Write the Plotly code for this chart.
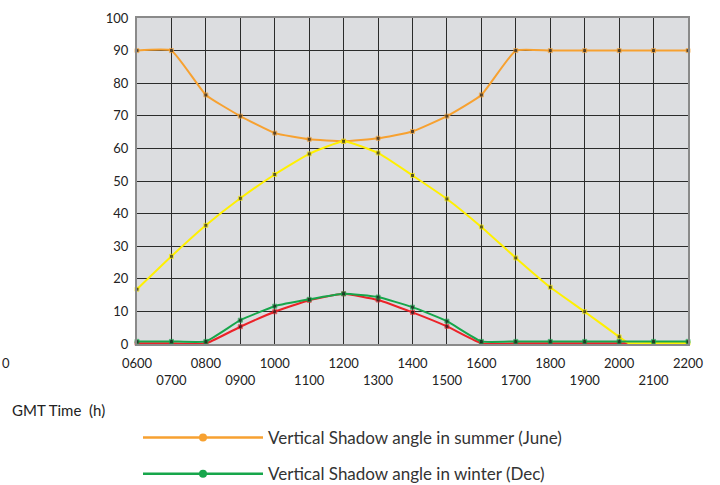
import plotly.graph_objects as go

hours = [6, 7, 8, 9, 10, 11, 12, 13, 14, 15, 16, 17, 18, 19, 20, 21, 22]
tick_labels = ["0600", "<br>0700", "0800", "<br>0900", "1000", "<br>1100", "1200", "<br>1300",
               "1400", "<br>1500", "1600", "<br>1700", "1800", "<br>1900", "2000", "<br>2100", "2200"]

summer_vertical = [90, 90, 76.4, 69.9, 64.7, 62.8, 62.2, 63.1, 65.2, 69.9, 76.4, 90, 90, 90, 90, 90, 90]
winter_vertical = [0.8, 0.8, 0.8, 7.3, 11.6, 13.7, 15.4, 14.4, 11.3, 7.0, 0.8, 0.8, 0.8, 0.8, 0.8, 0.8, 0.8]
winter_h_hours = [6, 7, 8, 9, 10, 11, 12, 13, 14, 15, 16, 17, 18, 19, 20, 20.27]
winter_horizontal = [0.2, 0.2, 0.2, 5.3, 9.9, 13.4, 15.4, 13.5, 9.7, 5.4, 0.2, 0.2, 0.2, 0.2, 0.2, 0.2]
summer_h_hours = [6, 7, 8, 9, 10, 11, 12, 13, 14, 15, 16, 17, 18, 19, 20, 20.27, 21, 22]
summer_horizontal = [16.8, 26.9, 36.4, 44.7, 52.0, 58.3, 62.2, 58.6, 51.7, 44.5, 35.9, 26.4, 17.4, 9.9, 2.2, 0.3, 0.3, 0.3]

ORANGE = "#f7a130"
GREEN = "#17a64b"
YELLOW = "#fff000"
RED = "#ec2228"

# plot area spans page x 137..688, y 18..344
PX0, PX1, PY0, PY1 = 137, 688, 18, 344
W, H = 720, 485


def px(x):
    return (x - PX0) / (PX1 - PX0)


def py(y):
    return (PY1 - y) / (PY1 - PY0)


fig = go.Figure()


def add_series(x, y, color, name):
    sizes = [4 if float(h).is_integer() else 0 for h in x]
    fig.add_trace(go.Scatter(
        x=x, y=y, mode="lines+markers", name=name, showlegend=False,
        line=dict(color=color, width=2, shape="spline", smoothing=0.4),
        marker=dict(color="#1a1a1a", size=sizes, symbol="square"),
        cliponaxis=False,
    ))


add_series(winter_h_hours, winter_horizontal, RED, "Horizontal Shadow angle in winter (Dec)")
add_series(hours, summer_vertical, ORANGE, "Vertical Shadow angle in summer (June)")
add_series(summer_h_hours, summer_horizontal, YELLOW, "Horizontal Shadow angle in summer (June)")
add_series(hours, winter_vertical, GREEN, "Vertical Shadow angle in winter (Dec)")

# legend-only entries
for i, (color, name) in enumerate([(ORANGE, "Vertical Shadow angle in summer (June)"),
                                   (GREEN, "Vertical Shadow angle in winter (Dec)")]):
    fig.add_trace(go.Scatter(
        x=[None], y=[None], mode="lines+markers", name=name, legendgroup=f"g{i}",
        line=dict(color=color, width=2.5),
        marker=dict(color=color, size=8, symbol="circle"),
    ))

fig.update_layout(
    width=W, height=H,
    margin=dict(l=PX0, r=W - PX1, t=PY0, b=H - PY1, autoexpand=False),
    paper_bgcolor="white",
    plot_bgcolor="#dcdde0",
    font=dict(family="Lato, 'Open Sans', sans-serif", size=13, color="#222222"),
    xaxis=dict(
        range=[6, 22], tickvals=hours, ticktext=tick_labels,
        showgrid=True, gridcolor="#2b2b2b", gridwidth=1,
        zeroline=False, showline=True, linecolor="#8a8a8a", linewidth=2, mirror=True,
        ticks="", tickfont=dict(size=13), ticklabelstandoff=6,
    ),
    yaxis=dict(
        range=[0, 100], dtick=10,
        showgrid=True, gridcolor="#2b2b2b", gridwidth=1,
        zeroline=False, showline=True, linecolor="#8a8a8a", linewidth=2, mirror=True,
        ticks="", tickfont=dict(size=13), ticklabelstandoff=4,
    ),
    legend=dict(
        x=px(138), xanchor="left", y=py(420), yanchor="top",
        orientation="v", itemwidth=120, tracegroupgap=11,
        font=dict(size=17, color="#333333"), bgcolor="rgba(0,0,0,0)",
    ),
    annotations=[
        dict(text="GMT Time\u00a0\u00a0(h)", xref="paper", yref="paper",
             x=px(10), y=py(410), xanchor="left", yanchor="middle",
             showarrow=False, font=dict(size=15, color="#222222")),
        dict(text="0", xref="paper", yref="paper",
             x=px(0), y=py(363), xanchor="left", yanchor="middle",
             showarrow=False, font=dict(size=13, color="#222222")),
    ],
)

fig.write_html("out.html", config={"displayModeBar": False},
               post_script="document.body.style.margin='0';")
